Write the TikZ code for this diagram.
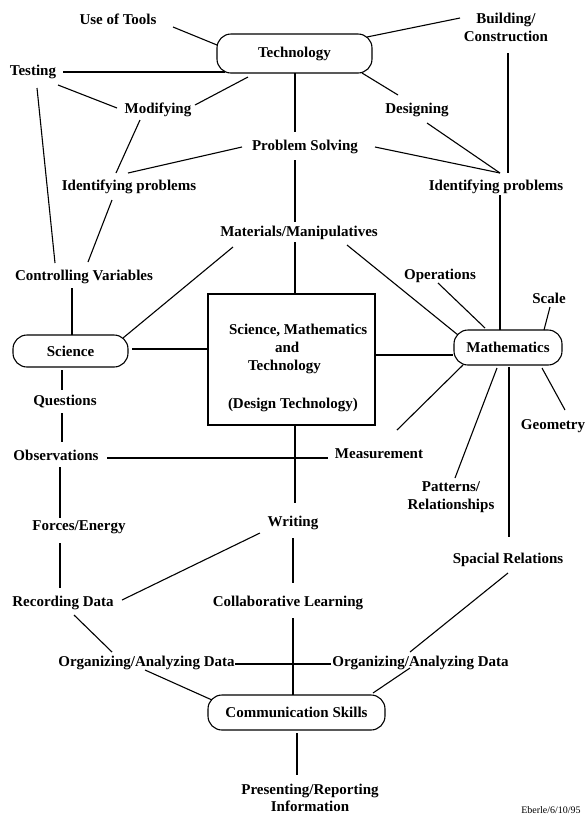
\documentclass[tikz,border=0pt]{standalone}
\usepackage{fontspec}
\setmainfont{Liberation Serif}
\usetikzlibrary{calc}
\newcommand\lbfont{\fontsize{15}{18}\selectfont\bfseries}
\tikzset{
  lbl/.style={inner sep=1pt, font=\lbfont},
  mlbl/.style={inner sep=1pt, font=\lbfont, align=center},
  rbox/.style={draw, line width=1.1pt, rounded corners=14pt, inner sep=0pt, font=\lbfont},
  cbox/.style={draw, line width=1.1pt, minimum width=167pt, minimum height=131pt, inner sep=0pt, font=\lbfont},
  con/.style={line width=1.1pt},
}
\begin{document}
\begin{tikzpicture}[x=1pt,y=-1pt]
\useasboundingbox (0,0) rectangle (586,815);
% nodes
\node[lbl] (tools) at (118,19) {Use of Tools};
\node[rbox, minimum width=155pt, minimum height=39pt] (tech) at (294.5,53.5) {Technology};
\node[mlbl] (build) at (506,27) {Building/\\Construction};
\node[lbl] (testing) at (33,72) {Testing};
\node[lbl] (modif) at (158,110) {Modifying};
\node[lbl] (design) at (417,110) {Designing};
\node[lbl] (psolve) at (305,147) {Problem Solving};
\node[lbl] (idl) at (129,187) {Identifying problems};
\node[lbl] (idr) at (496,187) {Identifying problems};
\node[lbl] (mat) at (299,233) {Materials/Manipulatives};
\node[lbl] (ctrl) at (84,277) {Controlling Variables};
\node[lbl] (oper) at (440,276) {Operations};
\node[lbl] (scale) at (549,298) {Scale};
\node[rbox, minimum width=115pt, minimum height=32pt] (sci) at (70.5,351) {Science};
\node[cbox] (center) at (291.5,359.5) {\parbox{160pt}{\raggedright
  \rule{0pt}{27pt}\hspace*{17.5pt}Science, Mathematics\\
  \hspace*{63.5pt}and\\
  \hspace*{36.5pt}Technology\\[20pt]
  \hspace*{16.5pt}(Design Technology)}};
\node[rbox, minimum width=108pt, minimum height=35pt] (math) at (508,347.5) {Mathematics};
\node[lbl] (quest) at (65,402) {Questions};
\node[lbl] (geom) at (553,426) {Geometry};
\node[lbl] (obs) at (56,455) {Observations};
\node[lbl] (meas) at (379,454) {Measurement};
\node[mlbl] (patt) at (451,497) {Patterns/\\Relationships};
\node[lbl] (forces) at (79,527) {Forces/Energy};
\node[lbl] (writing) at (293,523) {Writing};
\node[lbl] (spac) at (508,560) {Spacial Relations};
\node[lbl] (rec) at (63,603) {Recording Data};
\node[lbl] (collab) at (288,603) {Collaborative Learning};
\node[lbl] (oadl) at (146.5,663) {Organizing/Analyzing Data};
\node[lbl] (oadr) at (420.5,663) {Organizing/Analyzing Data};
\node[rbox, minimum width=177pt, minimum height=35pt] (comm) at (296.5,712.5) {Communication Skills};
\node[inner sep=0pt, font=\fontsize{15}{17}\selectfont\bfseries, align=center] (present) at (310,797.5) {Presenting/Reporting\\Information};
\node[inner sep=0pt, font=\fontsize{10}{12}\selectfont] (eberle) at (551,810) {Eberle/6/10/95};
% connectors
\draw[con] ($(tools)+(55,8)$) -- ($(tech)+(-77.5,-8.5)$);
\draw[con] ($(tech)+(72.5,-16.5)$) -- ($(build)+(-46,-9)$);
\draw[con] ($(testing)+(30,0)$) -- ($(tech)+(-70,18.5)$);
\draw[con] ($(testing)+(25,13)$) -- ($(modif)+(-41,-2)$);
\draw[con] ($(modif)+(37,-5)$) -- ($(tech)+(-46.5,23.5)$);
\draw[con] ($(modif)+(-18,10)$) -- ($(idl)+(-13,-14)$);
\draw[con] ($(psolve)+(-63,0)$) -- ($(idl)+(-1,-14)$);
\draw[con] ($(tech)+(0.5,19.5)$) -- ($(psolve)+(-10,-15)$);
\draw[con] ($(design)+(-19,-15)$) -- ($(tech)+(67.5,19.5)$);
\draw[con] ($(design)+(10,13)$) -- ($(idr)+(4,-14)$);
\draw[con] ($(psolve)+(70,0)$) -- ($(idr)+(4,-14)$);
\draw[con] ($(build)+(2,26)$) -- ($(idr)+(12,-14)$);
\draw[con] ($(psolve)+(-10,13)$) -- ($(mat)+(-4,-11)$);
\draw[con] ($(mat)+(-4,9)$) -- ($(center)+(3.5,-65.5)$);
\draw[con] ($(idl)+(-17,13)$) -- ($(ctrl)+(4,-15)$);
\draw[con] ($(testing)+(4,16)$) -- ($(ctrl)+(-29,-14)$);
\draw[con] ($(ctrl)+(-12,11)$) -- ($(sci)+(1.5,-16)$);
\draw[con] ($(sci)+(52.5,-13)$) -- ($(mat)+(-66,14)$);
\draw[con] ($(sci)+(61.5,-2)$) -- ($(center)+(-83.5,-10.5)$);
\draw[con] ($(mat)+(48,12)$) -- ($(math)+(-50,-12.5)$);
\draw[con] ($(oper)+(-2,7)$) -- ($(math)+(-23,-19.5)$);
\draw[con] ($(idr)+(4,8)$) -- ($(math)+(-8,-17.5)$);
\draw[con] ($(scale)+(1,9)$) -- ($(math)+(36,-17.5)$);
\draw[con] ($(center)+(83.5,-4.5)$) -- ($(math)+(-55,7.5)$);
\draw[con] ($(math)+(34,20.5)$) -- ($(geom)+(12,-16)$);
\draw[con] ($(math)+(-45,17.5)$) -- ($(meas)+(18,-24)$);
\draw[con] ($(math)+(-11,20.5)$) -- ($(patt)+(4,-19)$);
\draw[con] ($(math)+(1,19.5)$) -- ($(spac)+(1,-23)$);
\draw[con] ($(sci)+(-8.5,19)$) -- ($(quest)+(-3,-12)$);
\draw[con] ($(quest)+(-3,11)$) -- ($(obs)+(6,-13)$);
\draw[con] ($(obs)+(51,3)$) -- ($(meas)+(-51,4)$);
\draw[con] ($(obs)+(4,12)$) -- ($(forces)+(-19,-9)$);
\draw[con] ($(forces)+(-19,16)$) -- ($(rec)+(-3,-15)$);
\draw[con] ($(center)+(3.5,65.5)$) -- ($(writing)+(2,-20)$);
\draw[con] ($(writing)+(-33,10)$) -- ($(rec)+(59,-3)$);
\draw[con] ($(writing)+(0,15)$) -- ($(collab)+(5,-20)$);
\draw[con] ($(collab)+(5,15)$) -- ($(comm)+(-3.5,-17.5)$);
\draw[con] ($(rec)+(11,12)$) -- ($(oadl)+(-34.5,-11)$);
\draw[con] ($(oadl)+(-1.5,7)$) -- ($(comm)+(-84.5,-12.5)$);
\draw[con] ($(oadl)+(88.5,1)$) -- ($(oadr)+(-89.5,1)$);
\draw[con] ($(spac)+(0,13)$) -- ($(oadr)+(-10.5,-11)$);
\draw[con] ($(oadr)+(-10.5,5)$) -- ($(comm)+(76.5,-19.5)$);
\draw[con] ($(comm)+(0.5,20.5)$) -- ($(present)+(-13,-22.5)$);
\end{tikzpicture}
\end{document}
